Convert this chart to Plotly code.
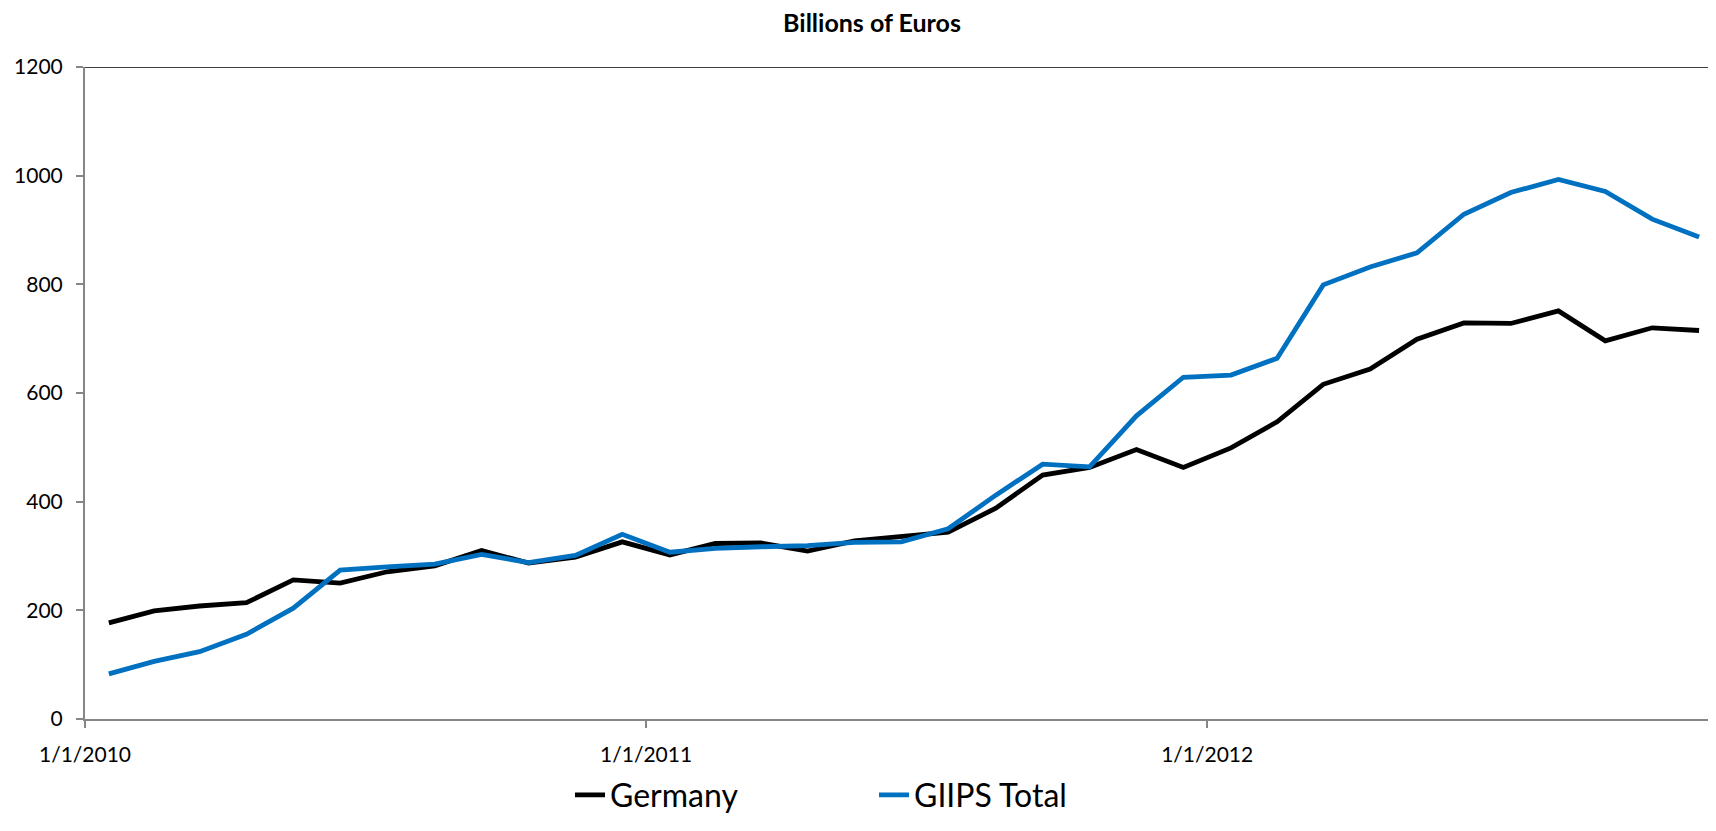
import plotly.graph_objects as go

months = [f"{y}-{m:02d}-01" for y in (2010, 2011, 2012) for m in range(1, 13)][:35]

germany = [177, 199, 208, 214, 256, 250, 271, 282, 310, 287, 298, 326,
           302, 323, 324, 309, 328, 337, 344, 388, 449, 463, 496, 463,
           499, 547, 616, 644, 699, 729, 728, 751, 696, 720, 715]
giips = [83, 106, 124, 156, 204, 274, 280, 285, 303, 288, 301, 340,
         307, 314, 317, 319, 325, 326, 350, 412, 469, 464, 558, 629,
         633, 664, 799, 832, 858, 929, 969, 993, 971, 920, 887]

year_ticks = ["2010-01-01", "2011-01-01", "2012-01-01"]
year_labels = ["1/1/2010", "1/1/2011", "1/1/2012"]

FONT = "Lato"
AXIS_GREY = "#868686"

fig = go.Figure()
fig.add_trace(go.Scatter(
    x=months, y=germany, name="Germany", mode="lines",
    xperiod="M1", xperiodalignment="middle",
    line=dict(color="#000000", width=4.8),
    legend="legend",
))
fig.add_trace(go.Scatter(
    x=months, y=giips, name="GIIPS Total", mode="lines",
    xperiod="M1", xperiodalignment="middle",
    line=dict(color="#0070C0", width=4.8),
    legend="legend2",
))

# black border along the top of the plot area
fig.add_shape(type="line", xref="paper", yref="y", x0=0, x1=1, y0=1200, y1=1200,
              line=dict(color="#000000", width=1.5))

fig.update_layout(
    width=1716, height=831,
    margin=dict(l=77, r=8, t=59, b=120, autoexpand=False),
    paper_bgcolor="white", plot_bgcolor="white",
    font=dict(family=FONT, color="#000000", size=21),
    title=dict(text="<b>Billions of Euros</b>", x=864 / 1716, xref="container",
               xanchor="center", y=1 - 15 / 831, yanchor="middle",
               font=dict(family=FONT, size=25, color="#000000")),
    legend=dict(x=562 / 1716, xref="container", y=1 - 787 / 831, yref="container",
                xanchor="left", yanchor="middle", font=dict(size=32),
                bgcolor="rgba(0,0,0,0)"),
    legend2=dict(x=866 / 1716, xref="container", y=1 - 787 / 831, yref="container",
                 xanchor="left", yanchor="middle", font=dict(size=32),
                 bgcolor="rgba(0,0,0,0)"),
    showlegend=True,
)
fig.update_xaxes(
    type="date", range=["2010-01-01", "2012-11-27"],
    tickvals=year_ticks, ticktext=year_labels, tickangle=0,
    showgrid=False, zeroline=False,
    showline=True, linecolor=AXIS_GREY, linewidth=2,
    ticks="outside", ticklen=7, tickcolor=AXIS_GREY, tickwidth=1.5,
    ticklabelstandoff=9,
    tickfont=dict(family=FONT, size=21, color="#000000"),
)
fig.update_yaxes(
    range=[0, 1200], dtick=200,
    showgrid=False, zeroline=False,
    showline=True, linecolor=AXIS_GREY, linewidth=2,
    ticks="outside", ticklen=7, tickcolor=AXIS_GREY, tickwidth=1.5,
    ticklabelstandoff=9,
    tickfont=dict(family=FONT, size=21, color="#000000"),
)

fig.write_html("out.html")
